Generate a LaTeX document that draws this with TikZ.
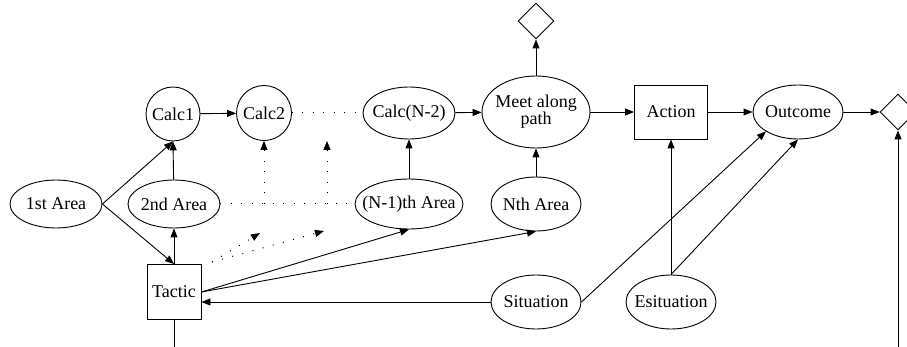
\documentclass[tikz,border=0pt]{standalone}
\usepackage{fontspec}
\setmainfont{Liberation Serif}
\usetikzlibrary{shapes.geometric,arrows.meta}
\begin{document}
\begin{tikzpicture}[x=1pt,y=-1pt,
  every node/.style={font=\fontsize{18}{19}\selectfont, inner sep=0pt, line width=0.9pt},
  % outline shapes keep their given size; the caption sits at the centre
  oval/.style={draw, ellipse, label={[align=center]center:#1}},
  disc/.style={draw, circle, label=center:#1},
  box/.style={draw, rectangle, label=center:#1},
  choice/.style={draw, diamond, minimum width=36pt, minimum height=36pt},
  link/.style={line width=0.9pt, -{Triangle[length=9pt,width=7pt]}},
  plain/.style={line width=0.9pt},
  dots/.style={line width=1pt, dash pattern=on 1pt off 9.5pt},
  dotlink/.style={dots, -{Triangle[length=9pt,width=7pt]}}]
\useasboundingbox (0,0) rectangle (907,347);

% upper row
\node[disc=Calc1, minimum size=54pt] (calcA) at (173,114) {};
\node[disc=Calc2, minimum size=55pt] (calcB) at (264,113) {};
\node[oval=Calc(N-2), minimum width=92pt, minimum height=52pt] (calcN) at (409,113) {};
\node[oval={Meet along\\[-2pt]path}, minimum width=108pt, minimum height=72pt] (meet) at (536,112) {};
\node[choice] (dtop) at (536,21) {};
\node[box=Action, minimum width=73pt, minimum height=54pt] (action) at (671,112) {};
\node[oval=Outcome, minimum width=90pt, minimum height=54pt] (outcome) at (798,112) {};
\node[choice] (dright) at (898,112) {};

% middle row
\node[oval=1st Area, minimum width=92pt, minimum height=48pt] (area1) at (56,204) {};
\node[oval=2nd Area, minimum width=92pt, minimum height=48pt] (area2) at (174,204) {};
\node[oval=(N-1)th Area, minimum width=108pt, minimum height=50pt] (areaM) at (409,204) {};
\node[oval=Nth Area, minimum width=90pt, minimum height=54pt] (areaN) at (536,204) {};

% lower row
\node[box=Tactic, minimum width=54pt, minimum height=55pt] (tactic) at (174,292) {};
\node[oval=Situation, minimum width=90pt, minimum height=54pt] (situation) at (536,302) {};
\node[oval=Esituation, minimum width=90pt, minimum height=54pt] (esit) at (671,302) {};

% free ends
\coordinate (tacticfoot) at (174,347);
\coordinate (rightfoot) at (898,347);
\coordinate (dotstart) at (212,262);
\coordinate (dotendA) at (260,233);
\coordinate (dotendB) at (324,231);
\coordinate (gapbaseA) at (264,204);
\coordinate (gapbaseB) at (327,204);
\coordinate (gaptopB) at (327,141);

% solid connectors
\draw[link] (calcA) -- (calcB);
\draw[link] (calcN) -- (meet);
\draw[link] (meet) -- (action);
\draw[link] (action) -- (outcome);
\draw[link] (outcome) -- (dright);
\draw[link] (meet) -- (dtop);
\draw[link] (area1.east) -- (calcA.south);
\draw[link] (area2) -- (calcA.south);
\draw[link] (area1.east) -- (tactic.north);
\draw[link] (tactic) -- (area2);
\draw[link] (areaM) -- (calcN);
\draw[link] (areaN) -- (meet);
\draw[link] (tactic.east) -- (areaM.south);
\draw[link] (tactic.east) -- (areaN.south);
\draw[link] (situation.west) -- (tactic.east |- situation.west);
\draw[link] (situation.east) -- (outcome.south west);
\draw[link] (esit.north) -- (action.south);
\draw[link] (esit.north) -- (outcome.south);
\draw[plain] (tactic.south) -- (tacticfoot);
\draw[link] (rightfoot) -- (dright.south);

% dotted connectors
\draw[dots] (calcB.east) -- (calcN.west);
\draw[dots] (area2.east) -- (areaM.west);
\draw[dotlink] (gapbaseA) -- (calcB.south);
\draw[dotlink] (gapbaseB) -- (gaptopB);
\draw[dotlink] (dotstart) -- (dotendA);
\draw[dotlink] (dotstart) -- (dotendB);
\end{tikzpicture}
\end{document}
